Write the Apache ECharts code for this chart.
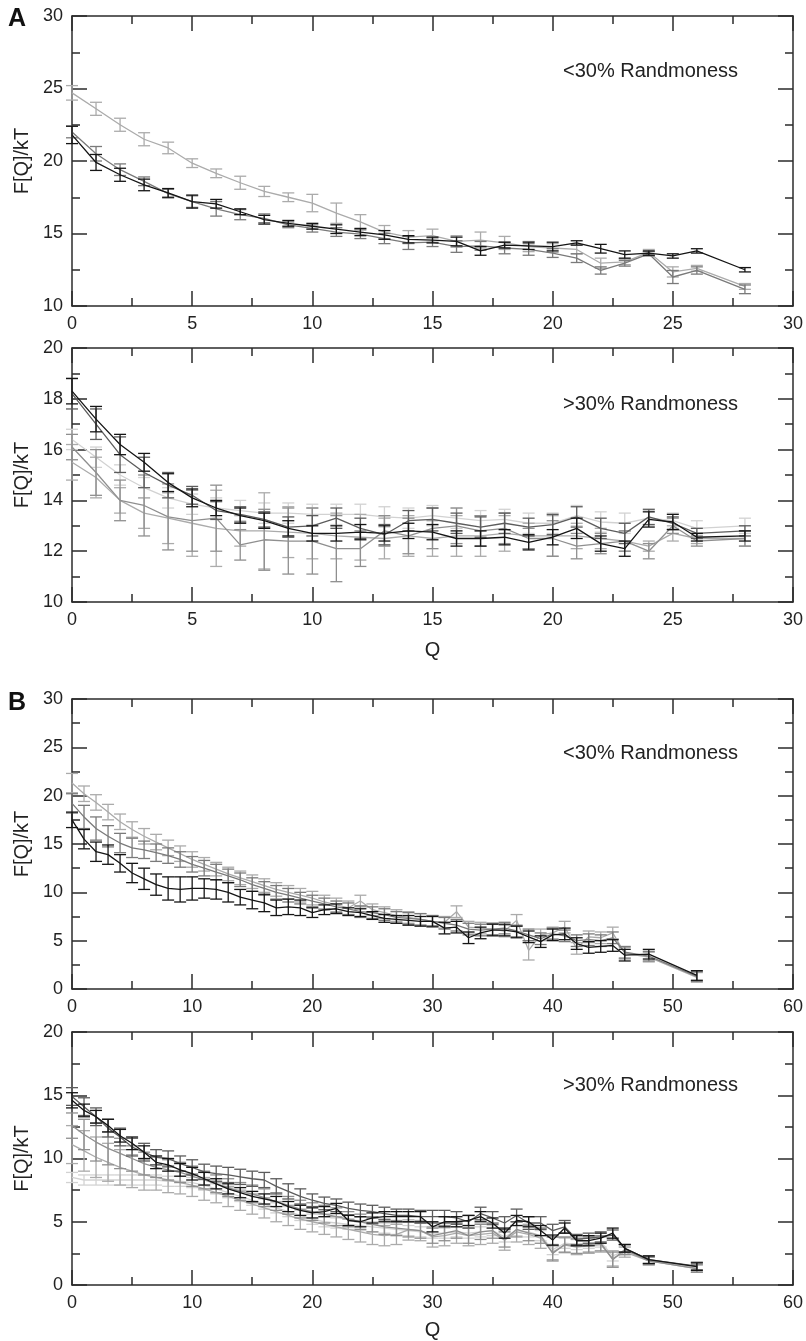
<!DOCTYPE html>
<html><head><meta charset="utf-8">
<script src="https://cdn.jsdelivr.net/npm/echarts@6/dist/echarts.min.js"></script>
<style>html,body{margin:0;padding:0;background:#fff}#c{width:806px;height:1341px}</style>
</head><body><div id="c"></div><script>
// ---------- DATA ----------
// Panel A, top (<30% randomness)
const A1_q = [0,1,2,3,4,5,6,7,8,9,10,11,12,13,14,15,16,17,18,19,20,21,22,23,24,25,26,28];
const A1_black      = [21.8,19.9,19.05,18.35,17.8,17.2,17.05,16.5,15.95,15.7,15.5,15.3,15.1,14.9,14.6,14.55,14.45,13.8,14.2,14.15,14.1,14.35,13.95,13.55,13.65,13.45,13.8,12.5];
const A1_black_err  = [0.6,0.55,0.45,0.4,0.3,0.45,0.3,0.2,0.3,0.2,0.2,0.3,0.25,0.3,0.25,0.2,0.3,0.3,0.2,0.25,0.3,0.15,0.3,0.25,0.15,0.15,0.15,0.15];
const A1_gray       = [22.0,20.5,19.4,18.6,17.75,17.2,16.7,16.3,16.05,15.6,15.35,15.1,14.95,14.65,14.35,14.4,14.1,14.15,14.0,13.9,13.65,13.3,12.45,12.95,13.6,12.0,12.45,11.15];
const A1_gray_err   = [0.4,0.5,0.4,0.3,0.3,0.4,0.5,0.35,0.3,0.2,0.25,0.3,0.3,0.35,0.45,0.3,0.4,0.3,0.4,0.4,0.3,0.3,0.25,0.2,0.15,0.45,0.25,0.3];
const A1_light      = [24.7,23.6,22.5,21.5,20.9,19.85,19.15,18.5,17.9,17.5,17.1,16.4,15.8,15.1,14.75,14.85,14.45,14.55,14.35,14.1,14.0,13.9,12.95,13.05,13.7,12.35,12.6,11.35];
const A1_light_err  = [0.5,0.45,0.45,0.45,0.4,0.3,0.3,0.45,0.35,0.3,0.6,0.7,0.5,0.45,0.45,0.45,0.4,0.55,0.45,0.35,0.3,0.3,0.35,0.2,0.2,0.35,0.2,0.2];

// Panel A, bottom (>30% randomness)
const A2_q = [0,1,2,3,4,5,6,7,8,9,10,11,12,13,14,15,16,17,18,19,20,21,22,23,24,25,26,28];
const A2_black      = [18.3,17.2,16.2,15.5,14.7,14.1,13.7,13.4,13.2,12.9,12.7,12.7,12.75,12.7,12.8,12.75,12.5,12.5,12.55,12.35,12.55,12.9,12.3,12.1,13.25,13.15,12.55,12.6];
const A2_black_err  = [0.5,0.5,0.4,0.35,0.35,0.35,0.3,0.3,0.3,0.3,0.3,0.3,0.3,0.3,0.3,0.3,0.3,0.3,0.3,0.3,0.3,0.4,0.3,0.3,0.3,0.3,0.15,0.2];
const A2_dark       = [18.2,17.0,15.8,15.1,14.6,14.2,13.6,13.45,13.25,12.95,13.0,13.3,12.9,12.65,13.2,13.25,13.1,12.95,13.1,12.95,13.05,13.35,12.9,12.7,13.35,13.1,12.7,12.8];
const A2_dark_err   = [0.6,0.6,0.7,0.6,0.5,0.35,0.35,0.3,0.3,0.4,0.4,0.4,0.4,0.4,0.4,0.45,0.4,0.4,0.4,0.35,0.4,0.4,0.4,0.4,0.3,0.25,0.2,0.2];
const A2_mid        = [16.1,15.1,14.0,13.8,13.35,13.2,13.3,12.25,12.45,12.4,12.4,12.1,12.1,12.8,12.6,12.9,13.0,12.8,12.9,12.5,12.5,12.2,12.3,12.4,12.0,13.0,12.4,12.5];
const A2_mid_err    = [0.5,0.9,0.8,1.2,1.3,1.2,1.3,0.6,1.2,1.3,1.3,1.3,0.7,0.6,0.7,0.8,0.7,0.6,0.6,0.4,0.7,0.5,0.4,0.4,0.3,0.3,0.2,0.3];
const A2_light      = [15.5,14.9,14.0,13.5,13.3,13.1,12.9,12.8,12.8,12.75,12.7,12.6,12.55,12.5,12.6,12.5,12.6,12.6,12.7,12.6,12.6,12.6,12.5,12.4,12.2,12.7,12.5,12.5];
const A2_light_err  = [0.7,0.8,0.5,0.6,1.0,1.3,1.5,0.6,1.5,1.0,1.0,0.9,0.9,0.8,0.8,0.7,0.8,0.8,0.7,0.5,0.8,0.5,0.4,0.4,0.2,0.3,0.2,0.3];
const A2_pale       = [16.4,15.7,15.0,14.5,14.1,13.85,13.7,13.6,13.5,13.5,13.45,13.45,13.45,13.35,13.3,13.4,13.3,13.2,13.25,13.1,13.1,13.4,13.15,13.1,13.3,13.2,12.9,13.0];
const A2_pale_err   = [0.4,0.4,0.4,0.4,0.4,0.4,0.4,0.4,0.4,0.4,0.4,0.4,0.4,0.4,0.4,0.4,0.4,0.4,0.4,0.4,0.4,0.4,0.4,0.4,0.3,0.3,0.3,0.3];

// Panel B, top (<30% randomness)
const B1_q = [0,1,2,3,4,5,6,7,8,9,10,11,12,13,14,15,16,17,18,19,20,21,22,23,24,25,26,27,28,29,30,31,32,33,34,35,36,37,38,39,40,41,42,43,44,45,46,48,52];
const B1_black      = [17.5,15.5,14.2,13.9,13.0,12.0,11.4,10.8,10.4,10.3,10.4,10.4,10.3,10.0,9.5,9.2,8.9,8.4,8.5,8.4,7.9,8.2,8.3,8.0,7.9,7.6,7.3,7.2,7.1,7.0,7.0,6.3,6.4,5.3,5.8,6.1,6.1,5.9,5.4,4.9,5.6,5.7,4.7,4.3,4.4,4.5,3.5,3.6,1.4];
const B1_black_err  = [0.8,1.0,1.0,1.0,0.9,1.0,1.1,1.1,1.2,1.3,1.2,1.0,1.0,1.0,0.8,0.9,0.9,0.8,0.8,0.8,0.5,0.5,0.5,0.4,0.4,0.4,0.4,0.4,0.5,0.5,0.5,0.6,0.6,0.6,0.6,0.6,0.6,0.6,0.6,0.6,0.6,0.6,0.6,0.6,0.6,0.6,0.6,0.5,0.5];
const B1_gray       = [19.2,17.8,16.6,15.8,15.1,14.6,14.4,14.1,13.8,13.4,12.9,12.5,12.1,11.7,11.3,10.8,10.4,10.0,9.7,9.4,9.1,8.8,8.5,8.3,8.0,7.9,7.7,7.4,7.3,7.2,7.0,6.8,6.6,6.2,6.1,6.2,6.3,6.0,5.6,5.2,5.7,5.5,5.0,5.1,5.0,5.3,3.8,3.4,1.3];
const B1_gray_err   = [1.0,1.2,1.2,1.1,1.0,1.0,0.9,0.9,0.8,0.8,0.8,0.8,0.8,0.7,0.7,0.7,0.7,0.7,0.7,0.6,0.6,0.6,0.6,0.6,0.6,0.6,0.6,0.6,0.6,0.6,0.6,0.6,0.6,0.6,0.6,0.6,0.6,0.6,0.6,0.6,0.6,0.6,0.6,0.6,0.6,0.6,0.6,0.5,0.5];
const B1_light      = [21.3,20.2,19.3,18.3,17.3,16.5,15.8,15.2,14.6,14.0,13.4,12.9,12.4,11.9,11.5,11.1,10.7,10.3,10.0,9.7,9.4,9.0,8.7,8.4,9.1,8.2,7.9,7.6,7.4,7.2,7.0,6.9,8.0,6.4,6.3,6.2,6.0,7.1,4.0,5.6,5.8,6.4,4.2,5.4,5.3,5.8,3.7,3.3,1.2];
const B1_light_err  = [1.0,0.8,0.8,0.8,0.8,0.8,0.8,0.8,0.8,0.8,0.8,0.7,0.7,0.7,0.7,0.7,0.7,0.7,0.7,0.7,0.7,0.7,0.7,0.7,0.6,0.6,0.6,0.6,0.6,0.6,0.6,0.6,0.6,0.6,0.6,0.6,0.6,0.6,1.0,0.6,0.6,0.6,0.6,0.6,0.6,0.6,0.6,0.5,0.5];

// Panel B, bottom (>30% randomness)
const B2_q = [0,1,2,3,4,5,6,7,8,9,10,11,12,13,14,15,16,17,18,19,20,21,22,23,24,25,26,27,28,29,30,31,32,33,34,35,36,37,38,39,40,41,42,43,44,45,46,48,52];
const B2_black      = [14.6,13.8,13.3,12.6,11.8,11.2,10.5,9.7,9.5,9.1,8.8,8.4,8.0,7.6,7.3,7.0,6.8,6.6,6.2,5.9,5.7,5.8,6.05,5.1,5.0,5.3,5.4,5.4,5.4,5.4,4.6,5.0,5.0,5.1,5.4,4.9,4.1,5.1,5.0,4.3,3.55,4.5,3.5,3.5,3.7,4.1,2.9,2.0,1.45];
const B2_black_err  = [0.6,0.5,0.5,0.5,0.5,0.5,0.5,0.5,0.5,0.5,0.5,0.5,0.4,0.4,0.4,0.4,0.4,0.4,0.4,0.4,0.4,0.4,0.4,0.4,0.4,0.4,0.4,0.4,0.4,0.4,0.4,0.4,0.4,0.4,0.4,0.4,0.4,0.4,0.4,0.4,0.4,0.4,0.4,0.4,0.4,0.4,0.3,0.3,0.3];
const B2_dark       = [14.9,14.1,13.3,12.4,11.7,10.9,10.5,10.1,10.0,9.6,9.3,8.95,8.8,8.7,8.55,8.4,8.3,7.8,7.4,7.0,6.7,6.45,6.3,6.05,5.9,5.8,5.65,5.5,5.5,5.4,5.4,5.4,5.3,5.0,5.65,5.3,4.9,5.5,4.9,4.9,4.3,4.6,3.6,3.7,3.8,3.95,2.9,2.0,1.5];
const B2_dark_err   = [0.7,0.7,0.7,0.7,0.7,0.7,0.7,0.6,0.6,0.6,0.6,0.6,0.6,0.6,0.6,0.6,0.6,0.6,0.6,0.6,0.5,0.5,0.5,0.5,0.5,0.5,0.5,0.5,0.5,0.5,0.5,0.5,0.5,0.5,0.5,0.5,0.5,0.5,0.5,0.5,0.5,0.5,0.4,0.4,0.4,0.4,0.3,0.3,0.3];
const B2_mid        = [12.6,11.9,11.3,10.8,10.4,10.0,9.6,9.3,9.1,8.9,8.6,8.3,8.0,7.7,7.4,7.2,6.9,6.6,6.3,6.0,5.8,5.6,5.4,5.2,5.0,4.8,4.6,4.5,4.4,4.3,3.9,4.1,4.3,3.9,4.2,4.3,3.6,4.4,4.1,3.9,2.5,3.2,3.1,3.2,3.3,2.0,2.8,1.9,1.3];
const B2_mid_err    = [1.0,1.2,1.5,1.3,1.2,1.0,0.9,0.8,0.8,0.8,0.8,0.7,0.7,0.7,0.7,0.7,0.7,0.7,0.7,0.7,0.7,0.7,0.7,0.6,0.6,0.6,0.6,0.6,0.6,0.6,0.6,0.6,0.6,0.6,0.6,0.6,0.6,0.6,0.6,0.6,0.6,0.6,0.6,0.6,0.6,0.6,0.4,0.3,0.3];
const B2_light      = [11.1,10.6,10.1,9.7,9.3,9.0,8.7,8.5,8.3,8.1,7.9,7.6,7.3,7.0,6.7,6.4,6.1,5.8,5.5,5.2,5.0,4.8,4.6,4.4,4.2,4.0,3.9,4.0,4.35,4.3,3.8,3.9,4.1,3.9,4.0,4.1,3.55,4.2,4.0,3.7,2.6,3.15,3.0,3.1,3.2,2.1,2.6,1.9,1.3];
const B2_light_err  = [1.5,1.6,1.6,1.5,1.4,1.3,1.2,1.0,1.0,0.9,0.9,0.9,0.8,0.8,0.8,0.8,0.8,0.8,0.8,0.8,0.8,0.8,0.8,0.8,0.8,0.8,0.8,0.8,0.8,0.8,0.8,0.8,0.8,0.8,0.8,0.8,0.8,0.8,0.8,0.8,0.6,0.6,0.6,0.6,0.6,0.6,0.4,0.3,0.3];
const B2_pale       = [8.5,8.3,8.3,8.3,8.3,8.3,8.3,8.3,8.2,8.2,8.1,7.9,7.6,7.3,7.0,6.7,6.4,6.1,5.8,5.5,5.2,5.0,4.9,4.8,4.7,4.6,4.5,4.4,4.3,4.2,4.1,4.1,4.2,4.1,4.2,4.3,3.8,4.3,4.2,3.9,2.8,3.3,3.2,3.3,3.4,2.3,2.7,1.9,1.4];
const B2_pale_err   = [0.4,0.4,0.4,0.4,0.4,0.4,0.4,0.4,0.4,0.4,0.4,0.4,0.4,0.4,0.4,0.4,0.4,0.4,0.4,0.4,0.4,0.4,0.4,0.4,0.4,0.4,0.4,0.4,0.4,0.4,0.4,0.4,0.4,0.4,0.4,0.4,0.4,0.4,0.4,0.4,0.4,0.4,0.4,0.4,0.4,0.4,0.3,0.3,0.3];

const yTitle = 'F[Q]/kT';
const xTitle = 'Q';
const notes = ['<30% Randmoness', '>30% Randmoness', '<30% Randmoness', '>30% Randmoness'];
const panelLetters = ['A', 'B'];

// ---------- STYLE ----------
const FONT = '"Liberation Sans", Arial, Helvetica, sans-serif';
const AX = '#2b2b2b';
const C = { black:'#151515', dark:'#5c5c5c', gray:'#7a7a7a', mid:'#8f8f8f', light:'#ababab', pale:'#d2d2d2' };

const panels = [
  { top:16,   height:290, xMax:30, xInt:5,  yMin:10, yMax:30, yInt:5, q:false },
  { top:348,  height:254, xMax:30, xInt:5,  yMin:10, yMax:20, yInt:2, q:true, gap:38 },
  { top:699,  height:290, xMax:60, xInt:10, yMin:0,  yMax:30, yInt:5, q:false },
  { top:1032, height:253, xMax:60, xInt:10, yMin:0,  yMax:20, yInt:5, q:true, gap:35 }
];

const grid = [], xAxis = [], yAxis = [], series = [];
panels.forEach((p, g) => {
  grid.push({ left:72, right:13, top:p.top, height:p.height, containLabel:false });
  const tick = { show:true, inside:true, length:15, lineStyle:{ color:AX, width:1.5 } };
  const minor = { show:true, splitNumber:2, length:8, lineStyle:{ color:AX, width:1.5 } };
  const line = { show:true, onZero:false, lineStyle:{ color:AX, width:1.5 } };
  const lab = { color:'#222', fontSize:18, fontFamily:FONT };
  xAxis.push({ type:'value', gridIndex:g, position:'bottom', min:0, max:p.xMax, interval:p.xInt,
    axisLine:line, axisTick:tick, minorTick:minor, splitLine:{show:false},
    axisLabel:Object.assign({ margin:9 }, lab),
    name: p.q ? xTitle : '', nameLocation:'middle', nameGap:p.gap || 30,
    nameTextStyle:{ color:'#222', fontSize:20, fontFamily:FONT } });
  xAxis.push({ type:'value', gridIndex:g, position:'top', min:0, max:p.xMax, interval:p.xInt,
    axisLine:line, axisTick:tick, minorTick:minor, splitLine:{show:false}, axisLabel:{show:false} });
  yAxis.push({ type:'value', gridIndex:g, position:'left', min:p.yMin, max:p.yMax, interval:p.yInt,
    axisLine:line, axisTick:tick, minorTick:minor, splitLine:{show:false},
    axisLabel:Object.assign({ margin:9 }, lab),
    name:yTitle, nameLocation:'middle', nameRotate:90, nameGap:37,
    nameTextStyle:{ color:'#222', fontSize:20, fontFamily:FONT } });
  yAxis.push({ type:'value', gridIndex:g, position:'right', min:p.yMin, max:p.yMax, interval:p.yInt,
    axisLine:line, axisTick:tick, minorTick:minor, splitLine:{show:false}, axisLabel:{show:false} });
});

function addSeries(g, q, vals, errs, color, z) {
  series.push({
    type:'line', xAxisIndex:2*g, yAxisIndex:2*g, z:z, showSymbol:false, symbol:'none',
    lineStyle:{ color:color, width:1.3 }, silent:true, animation:false,
    data: q.map((x, i) => [x, vals[i]])
  });
  series.push({
    type:'custom', xAxisIndex:2*g, yAxisIndex:2*g, z:z, silent:true, animation:false,
    data: q.map((x, i) => [x, vals[i] - errs[i], vals[i] + errs[i]]),
    encode:{ x:0, y:[1,2] },
    renderItem: function (params, api) {
      const x = api.value(0);
      const lo = api.coord([x, api.value(1)]);
      const hi = api.coord([x, api.value(2)]);
      const hw = 6;
      const st = { stroke:color, lineWidth:1.3 };
      return { type:'group', children:[
        { type:'line', shape:{ x1:lo[0], y1:lo[1], x2:hi[0], y2:hi[1] }, style:st },
        { type:'line', shape:{ x1:lo[0]-hw, y1:lo[1], x2:lo[0]+hw, y2:lo[1] }, style:st },
        { type:'line', shape:{ x1:hi[0]-hw, y1:hi[1], x2:hi[0]+hw, y2:hi[1] }, style:st }
      ]};
    }
  });
}

// Panel A top
addSeries(0, A1_q, A1_light, A1_light_err, C.light, 2);
addSeries(0, A1_q, A1_gray,  A1_gray_err,  C.gray, 3);
addSeries(0, A1_q, A1_black, A1_black_err, C.black, 4);
// Panel A bottom
addSeries(1, A2_q, A2_pale,  A2_pale_err,  C.pale, 2);
addSeries(1, A2_q, A2_light, A2_light_err, C.light, 3);
addSeries(1, A2_q, A2_mid,   A2_mid_err,   C.mid, 4);
addSeries(1, A2_q, A2_dark,  A2_dark_err,  C.dark, 5);
addSeries(1, A2_q, A2_black, A2_black_err, C.black, 6);
// Panel B top
addSeries(2, B1_q, B1_light, B1_light_err, C.light, 2);
addSeries(2, B1_q, B1_gray,  B1_gray_err,  C.gray, 3);
addSeries(2, B1_q, B1_black, B1_black_err, C.black, 4);
// Panel B bottom
addSeries(3, B2_q, B2_pale,  B2_pale_err,  C.pale, 2);
addSeries(3, B2_q, B2_light, B2_light_err, C.light, 3);
addSeries(3, B2_q, B2_mid,   B2_mid_err,   C.mid, 4);
addSeries(3, B2_q, B2_dark,  B2_dark_err,  C.dark, 5);
addSeries(3, B2_q, B2_black, B2_black_err, C.black, 6);

const noteY = [71, 404, 753, 1085];
const graphic = notes.map((t, i) => ({
  type:'text', x:563, y:noteY[i], z:20,
  style:{ text:t, fill:'#222', font:'20px ' + FONT, verticalAlign:'middle', align:'left' }
}));
graphic.push({ type:'text', x:8, y:19, z:20, style:{ text:panelLetters[0], fill:'#111', font:'bold 25px ' + FONT, verticalAlign:'middle' } });
graphic.push({ type:'text', x:8, y:703, z:20, style:{ text:panelLetters[1], fill:'#111', font:'bold 25px ' + FONT, verticalAlign:'middle' } });

const chart = echarts.init(document.getElementById('c'), null, { renderer:'canvas' });
chart.setOption({
  backgroundColor:'#ffffff',
  animation:false,
  textStyle:{ fontFamily:FONT },
  grid: grid, xAxis: xAxis, yAxis: yAxis, series: series, graphic: graphic
});
</script></body></html>
